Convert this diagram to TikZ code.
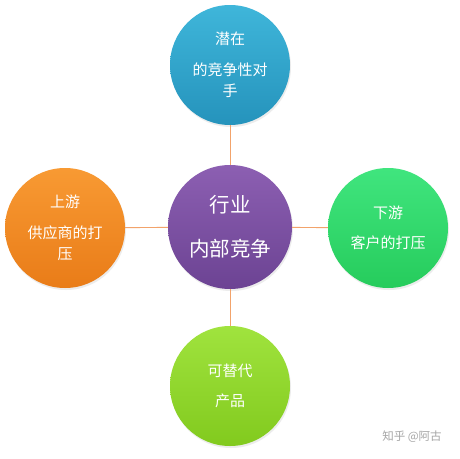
\documentclass[tikz,border=0pt]{standalone}
\usepackage{fontspec}
\setmainfont{Noto Sans CJK SC}
\usetikzlibrary{shadows}

\definecolor{bluetop}{HTML}{3FB6DA}
\definecolor{bluebot}{HTML}{2593BC}
\definecolor{orangetop}{HTML}{F89A33}
\definecolor{orangebot}{HTML}{E97C18}
\definecolor{purpletop}{HTML}{8C5FB2}
\definecolor{purplebot}{HTML}{6C4393}
\definecolor{greentop}{HTML}{40E57E}
\definecolor{greenbot}{HTML}{26CC5C}
\definecolor{limetop}{HTML}{A0E33E}
\definecolor{limebot}{HTML}{82CA1E}
\definecolor{linkcol}{HTML}{F2A36B}

\begin{document}
\begin{tikzpicture}[x=1pt,y=-1pt,
    ball/.style={circle, minimum size=120pt, inner sep=0pt, text=white, align=center,
        font=\fontsize{15}{21}\selectfont,
        drop shadow={opacity=0.15, shadow xshift=1pt, shadow yshift=-2pt}},
    link/.style={draw=linkcol, line width=0.9pt}]

    \useasboundingbox[fill=white] (0,0) rectangle (460,458);

    % centre and the four forces
    \node[ball, minimum size=124pt, top color=purpletop, bottom color=purplebot,
        font=\fontsize{20.5}{27}\selectfont] (mid) at (230,227) {行业\\[17pt]内部竞争};
    \node[ball, top color=bluetop, bottom color=bluebot] (rival) at (230,65)
        {潜在\\[10pt]的竞争性对\\手};
    \node[ball, top color=orangetop, bottom color=orangebot] (supplier) at (65,228)
        {上游\\[10pt]供应商的打\\压};
    \node[ball, top color=greentop, bottom color=greenbot] (buyer) at (388,228)
        {下游\\[9pt]客户的打压};
    \node[ball, top color=limetop, bottom color=limebot] (subst) at (230,386)
        {可替代\\[9pt]产品};

    \draw[link] (rival) -- (mid);
    \draw[link] (mid) -- (subst);
    \draw[link] (supplier) -- (mid);
    \draw[link] (mid) -- (buyer);

    \node[text=black!35, font=\fontsize{11.5}{13}\selectfont] (mark) at (412,437) {知乎 @阿古};
\end{tikzpicture}
\end{document}
